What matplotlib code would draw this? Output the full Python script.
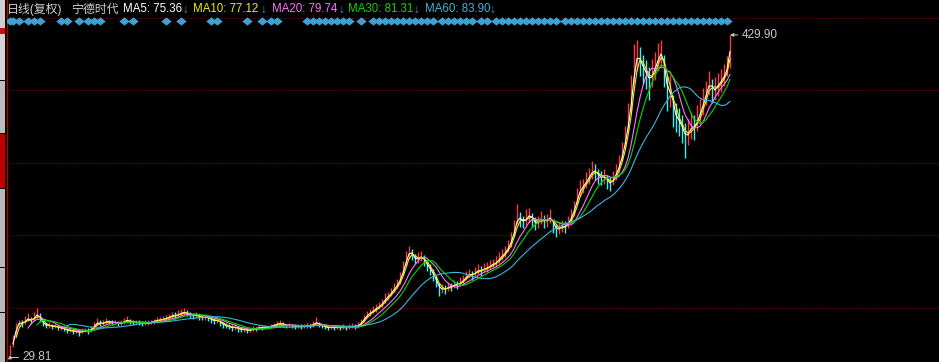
"""
宁德时代 daily K-line (front adjusted) with moving averages, dark terminal style.
"""
import matplotlib
matplotlib.use('Agg')
import matplotlib.pyplot as plt
from matplotlib.patches import Rectangle
import numpy as np
import pandas as pd

# one bar here stands for ~3 trading days of the original chart
closes = [
    36.1, 51.1, 67.3, 71.1, 68.6, 73.6, 76.1, 71.1, 78.6, 81.1,
    73.6, 68.6, 66.1, 67.3, 64.8, 66.1, 63.6, 63.6, 62.3, 59.8,
    61.1, 58.6, 59.8, 57.3, 59.8, 61.1, 59.8, 62.3, 67.3, 71.1,
    68.6, 69.8, 72.3, 71.1, 69.8, 71.1, 68.6, 69.8, 72.3, 73.6,
    71.1, 69.8, 71.1, 69.8, 68.6, 69.8, 69.8, 71.1, 72.3, 73.6,
    73.6, 74.8, 76.1, 77.3, 79.8, 78.6, 81.1, 82.3, 83.6, 81.1,
    79.8, 78.6, 79.8, 77.3, 76.1, 77.3, 76.1, 73.6, 72.3, 73.6,
    69.8, 67.3, 66.1, 64.8, 63.6, 64.8, 62.3, 61.1, 62.3, 59.8,
    61.1, 63.6, 62.3, 64.8, 63.6, 64.8, 64.8, 66.1, 67.3, 68.6,
    69.8, 67.3, 66.1, 67.3, 66.1, 64.8, 66.1, 64.8, 66.1, 67.3,
    66.1, 68.6, 71.1, 67.3, 66.1, 64.8, 63.6, 64.8, 63.6, 64.8,
    63.6, 64.8, 63.6, 64.8, 66.1, 64.8, 67.3, 71.1, 76.1, 81.1,
    82.3, 86.1, 88.6, 91.1, 94.8, 101.1, 103.6, 108.6, 113.6, 118.6,
    126.1, 138.6, 151.1, 161.1, 153.6, 148.6, 151.1, 153.6, 146.1, 141.1,
    136.1, 128.6, 121.1, 111.1, 113.6, 111.1, 116.1, 114.8, 118.6, 117.3,
    121.1, 123.6, 128.6, 131.1, 129.8, 133.6, 136.1, 134.8, 138.6, 138.6,
    142.3, 143.6, 146.1, 151.1, 154.8, 158.6, 166.1, 173.6, 188.6, 203.6,
    198.6, 196.1, 201.1, 206.1, 198.6, 193.6, 196.1, 201.1, 196.1, 198.6,
    203.6, 191.1, 186.1, 188.6, 191.1, 189.8, 196.1, 203.6, 213.6, 228.6,
    238.6, 241.1, 248.6, 253.6, 261.1, 258.6, 253.6, 251.1, 253.6, 246.1,
    243.6, 251.1, 258.6, 268.6, 283.6, 301.1, 326.1, 354.8, 396.1, 404.8,
    396.1, 386.1, 381.1, 371.1, 383.6, 391.1, 403.6, 408.6, 383.6, 353.6,
    363.6, 333.6, 326.1, 321.1, 311.1, 301.1, 308.6, 316.1, 313.6, 326.1,
    333.6, 348.6, 358.6, 373.6, 358.6, 363.6, 368.6, 373.6, 381.1, 391.1,
    427.3]

highs = [
    42, 55, 70, 74, 73, 78, 82, 77, 84, 88,
    82, 75, 70, 71, 68, 69, 67, 66, 66, 63,
    64, 62, 63, 61, 63, 64, 63, 66, 71, 76,
    73, 73, 76, 74, 73, 74, 72, 73, 76, 79,
    75, 73, 74, 73, 72, 73, 73, 74, 75, 77,
    77, 78, 80, 81, 84, 83, 86, 87, 89, 86,
    84, 82, 83, 81, 80, 80, 79, 77, 76, 77,
    74, 71, 70, 68, 67, 68, 66, 65, 65, 63,
    64, 66, 65, 67, 66, 67, 67, 69, 70, 72,
    74, 71, 69, 70, 69, 68, 69, 68, 69, 70,
    69, 72, 77, 71, 69, 68, 66, 67, 66, 67,
    67, 68, 66, 68, 70, 68, 71, 75, 80, 85,
    87, 91, 93, 96, 100, 107, 109, 114, 120, 125,
    134, 147, 160, 166, 162, 156, 159, 160, 155, 149,
    144, 137, 129, 120, 119, 117, 121, 120, 124, 122,
    127, 130, 135, 137, 135, 140, 143, 141, 145, 146,
    149, 150, 153, 158, 162, 166, 174, 183, 198, 218,
    208, 204, 212, 214, 207, 202, 204, 210, 205, 206,
    212, 200, 194, 196, 198, 197, 204, 212, 222, 238,
    248, 250, 258, 263, 272, 268, 262, 260, 262, 255,
    252, 260, 268, 280, 296, 316, 345, 380, 418, 424,
    415, 405, 398, 390, 400, 408, 420, 423, 405, 378,
    380, 355, 345, 338, 330, 320, 325, 333, 330, 342,
    350, 363, 372, 385, 375, 377, 382, 387, 393, 404,
    429.90]

lows = [
    29.81, 40, 52, 66, 65, 68, 72, 68, 72, 76,
    71, 66, 63, 64, 62, 63, 61, 61, 60, 57,
    58, 56, 57, 54, 57, 58, 56, 59, 62, 66,
    66, 67, 69, 68, 67, 68, 66, 67, 69, 70,
    68, 67, 68, 67, 66, 67, 67, 68, 69, 70,
    71, 72, 73, 74, 76, 75, 77, 79, 80, 78,
    76, 75, 76, 74, 73, 74, 72, 70, 69, 70,
    66, 64, 63, 62, 60, 61, 59, 58, 59, 57,
    58, 60, 60, 62, 61, 62, 62, 63, 64, 65,
    66, 65, 64, 65, 64, 62, 63, 62, 63, 64,
    63, 65, 67, 65, 63, 62, 61, 62, 61, 62,
    61, 62, 61, 62, 63, 62, 64, 66, 71, 76,
    79, 82, 84, 87, 90, 95, 99, 103, 108, 113,
    119, 130, 141, 150, 148, 143, 145, 147, 141, 135,
    130, 122, 115, 103, 107, 106, 110, 110, 113, 112,
    116, 118, 123, 126, 124, 128, 131, 129, 133, 133,
    137, 138, 140, 145, 149, 152, 159, 165, 178, 194,
    190, 188, 192, 196, 190, 186, 188, 193, 188, 190,
    195, 182, 177, 181, 184, 182, 189, 195, 204, 218,
    228, 232, 238, 244, 250, 249, 244, 242, 244, 237,
    235, 242, 249, 258, 272, 288, 310, 335, 370, 385,
    378, 368, 362, 348, 365, 374, 385, 390, 365, 335,
    340, 315, 308, 303, 295, 276, 292, 300, 298, 310,
    318, 330, 342, 355, 345, 348, 353, 358, 366, 378,
    388]

# moving averages, windows in bars (5/10/20/30/60 days at ~3 days per bar)
ma_names = ['MA5', 'MA10', 'MA20', 'MA30', 'MA60']
ma_values = ['75.36', '77.12', '79.74', '81.31', '83.90']
ma_windows = [2, 3, 7, 10, 20]
ma_colors = ['#ffffff', '#f0f000', '#ff70ff', '#00d800', '#3cb4dc']

# bars carrying a signal diamond in the top row
signal_bars = [0, 1, 3, 6, 8, 10, 17, 19, 23, 26, 28, 30, 38, 41, 52, 57,
               67, 69, 79, 84, 87, 89, 99, 101, 103, 105, 107, 109, 111, 113,
               117, 121, 123, 125, 127, 129, 131, 133, 135, 137, 139, 141,
               144, 146, 148, 150, 152, 154, 157, 159, 162, 164, 166, 168,
               170, 172, 174, 176, 178, 180, 182, 185, 187, 189, 191, 193,
               195, 197, 199, 201, 203, 205, 207, 209, 211, 213, 215, 217,
               219, 221, 223, 225, 227, 229, 231, 233, 235, 237, 239]

grid_levels = [451.1, 361.1, 269.8, 179.8, 88.6]

W, H = 939, 362
CJK = ['Liberation Sans', 'Noto Sans CJK SC', 'DejaVu Sans']


def px_text(fig, x, y, s, color, size):
    # place text by pixel position (x left, y baseline from top)
    fig.text(x / W, 1 - y / H, s, color=color, fontsize=size,
             family=CJK, ha='left', va='baseline')


def plot_kline():
    fig = plt.figure(figsize=(W / 100, H / 100), dpi=100, facecolor='black')
    ax = fig.add_axes([7 / W, 0, (W - 7) / W, 1])
    ax.set_facecolor('black')

    # left side strip of the terminal
    strip = [(0, 28, '#cfcfcf'), (28, 34, '#cc1010'), (34, 80, '#d4d4d4'),
             (81, 133, '#bcbcbc'), (134, 188, '#c00000'), (189, 267, '#b8b8b8'),
             (268, 312, '#b8b8b8'), (313, 362, '#b8b8b8')]
    for top, bot, col in strip:
        fig.add_artist(Rectangle((0, 1 - bot / H), 5 / W, (bot - top) / H,
                                 transform=fig.transFigure, color=col, lw=0))

    for lev in grid_levels:
        ax.axhline(lev, color='#7a0000', lw=0.8, ls=(0, (1, 1.5)), zorder=0)

    x = np.arange(len(closes))
    c = np.array(closes)
    h = np.array(highs)
    l = np.array(lows)
    prev = np.r_[c[0], c[:-1]]
    up = c >= prev
    ax.vlines(x[up], l[up], h[up], colors='#ff3c3c', lw=1.0, zorder=2)
    ax.vlines(x[~up], l[~up], h[~up], colors='#40f0f0', lw=1.0, zorder=2)

    s = pd.Series(closes)
    for w, col in zip(ma_windows, ma_colors):
        ax.plot(x, s.rolling(w, min_periods=w).mean(), color=col, lw=0.8, zorder=3)

    diamond = [(-1, 0), (0, 0.8), (1, 0), (0, -0.8), (-1, 0)]
    ax.plot(signal_bars, [1 - 20.5 / H] * len(signal_bars), ls='none',
            marker=diamond, ms=7.5, color='#3ca2d4', mew=0,
            transform=ax.get_xaxis_transform(), zorder=4)

    # high / low markers
    ax.annotate('%.2f' % max(highs), xy=(np.argmax(h), max(highs)),
                xytext=(12, 0), textcoords='offset pixels', color='#c8c8c8',
                fontsize=8.5, family=CJK, va='center', ha='left',
                arrowprops=dict(arrowstyle='-|>', color='#c8c8c8', lw=0.7,
                                mutation_scale=5, shrinkA=1, shrinkB=0))
    ax.annotate('%.2f' % min(lows), xy=(np.argmin(l), min(lows)),
                xytext=(12, -2), textcoords='offset pixels', color='#c8c8c8',
                fontsize=8.5, family=CJK, va='center', ha='left',
                annotation_clip=False,
                arrowprops=dict(arrowstyle='-|>', color='#c8c8c8', lw=0.7,
                                mutation_scale=5, shrinkA=1, shrinkB=0,
                                connectionstyle='angle,angleA=0,angleB=90,rad=0'))

    ax.set_xlim(-1, (W - 7) / 3 - 1)
    ax.set_ylim(21.06, 473.56)
    ax.set_xticks([])
    ax.set_yticks([])
    for sp in ['top', 'right', 'bottom']:
        ax.spines[sp].set_visible(False)
    ax.spines['left'].set_color('#b00000')
    ax.spines['left'].set_linewidth(1.0)

    # header line
    px_text(fig, 7, 12.5, '日线(复权)', '#d0d0d0', 8.6)
    px_text(fig, 71, 12.5, '宁德时代', '#d0d0d0', 8.6)
    name_x = [123, 193, 272, 348, 425]
    arrow_x = [182, 260, 338, 413, 489]
    for name, val, col, nx, axx in zip(ma_names, ma_values, ma_colors, name_x, arrow_x):
        px_text(fig, nx, 12, '%s: %s' % (name, val), col, 8.3)
        px_text(fig, axx, 12.5, '↓', '#30a8b8', 8.3)

    return fig


if __name__ == '__main__':
    fig = plot_kline()
    fig.savefig('out.png', dpi=100, facecolor='black')
